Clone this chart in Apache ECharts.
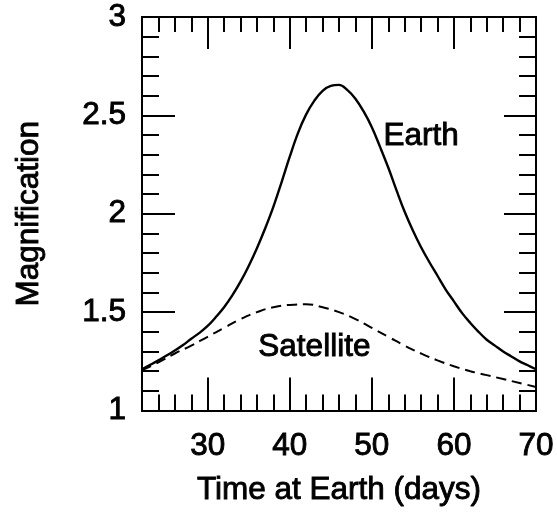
<!DOCTYPE html>
<html>
<head>
<meta charset="utf-8">
<script src="https://cdn.jsdelivr.net/npm/echarts@6/dist/echarts.min.js"></script>
<style>html,body{margin:0;padding:0;background:#fff;}#c{width:557px;height:512px;}</style>
</head>
<body>
<div id="c"></div>
<script>
// Data
const earthDays = [22, 23, 24, 25, 26, 27, 28, 29, 30, 31, 32, 33, 34, 35, 36, 37, 38, 39, 40, 41, 42, 43, 44, 45, 46, 47, 48, 49, 50, 51, 52, 53, 54, 55, 56, 57, 58, 59, 60, 61, 62, 63, 64, 65, 66, 67, 68, 69, 70];
const earthMag = [1.21, 1.232, 1.255, 1.28, 1.305, 1.333, 1.365, 1.395, 1.43, 1.475, 1.525, 1.585, 1.655, 1.735, 1.825, 1.925, 2.035, 2.16, 2.29, 2.41, 2.505, 2.575, 2.625, 2.65, 2.655, 2.63, 2.585, 2.52, 2.44, 2.34, 2.235, 2.12, 2.01, 1.915, 1.83, 1.755, 1.685, 1.615, 1.555, 1.495, 1.445, 1.40, 1.36, 1.33, 1.30, 1.275, 1.25, 1.23, 1.21];
const satDays = [22, 24, 26, 28, 30, 32, 34, 36, 38, 40, 42, 44, 46, 48, 50, 52, 54, 56, 58, 60, 62, 64, 66, 68, 70];
const satelliteMag = [1.205, 1.245, 1.29, 1.33, 1.375, 1.42, 1.465, 1.50, 1.525, 1.537, 1.54, 1.525, 1.50, 1.465, 1.42, 1.375, 1.33, 1.29, 1.255, 1.225, 1.20, 1.18, 1.16, 1.14, 1.12];
const xMajorTicks = [30, 40, 50, 60, 70];
const curveLabels = ['Earth', 'Satellite'];
const labelX = [56.0, 43.0];
const labelY = [2.395, 1.32];

const FONT = 'Liberation Sans, Arial, Helvetica, sans-serif';
const FS = 31.5;
const black = '#000';

function zip(xs, ys) { return xs.map((x, i) => [x, ys[i]]); }

const xBase = { type: 'value', min: 22, max: 70, splitLine: { show: false }, axisLine: { show: true, lineStyle: { color: black, width: 2 } } };
const yBase = { type: 'value', min: 1, max: 3, splitLine: { show: false }, axisLine: { show: true, lineStyle: { color: black, width: 2 } } };
const txt = { color: black, fontSize: FS, fontFamily: FONT, fontWeight: 'normal', textBorderColor: black, textBorderWidth: 0.9 };

const option = {
  animation: false,
  backgroundColor: '#fff',
  grid: { left: 142, right: 21, top: 17, bottom: 95, containLabel: false },
  xAxis: [
    Object.assign({}, xBase, { position: 'bottom', interval: 2,
      axisTick: { show: true, inside: true, length: 16, lineStyle: { color: black, width: 2 } },
      axisLabel: { show: false } }),
    Object.assign({}, xBase, { position: 'bottom',
      axisTick: { show: true, inside: true, length: 33, customValues: xMajorTicks, lineStyle: { color: black, width: 2 } },
      axisLabel: Object.assign({ show: true, customValues: xMajorTicks, margin: 20 }, txt),
      name: 'Time at Earth (days)', nameLocation: 'middle', nameGap: 64,
      nameTextStyle: txt }),
    Object.assign({}, xBase, { position: 'top', interval: 2,
      axisTick: { show: true, inside: true, length: 15, lineStyle: { color: black, width: 2 } },
      axisLabel: { show: false } }),
    Object.assign({}, xBase, { position: 'top',
      axisTick: { show: true, inside: true, length: 32, customValues: xMajorTicks, lineStyle: { color: black, width: 2 } },
      axisLabel: { show: false } })
  ],
  yAxis: [
    Object.assign({}, yBase, { position: 'left', interval: 0.1,
      axisTick: { show: true, inside: true, length: 17, lineStyle: { color: black, width: 2 } },
      axisLabel: { show: false } }),
    Object.assign({}, yBase, { position: 'left', interval: 0.5,
      axisTick: { show: true, inside: true, length: 33, lineStyle: { color: black, width: 2 } },
      axisLabel: Object.assign({ show: true, margin: 16 }, txt),
      name: 'Magnification', nameLocation: 'middle', nameGap: 97,
      nameTextStyle: txt }),
    Object.assign({}, yBase, { position: 'right', interval: 0.1,
      axisTick: { show: true, inside: true, length: 17, lineStyle: { color: black, width: 2 } },
      axisLabel: { show: false } }),
    Object.assign({}, yBase, { position: 'right', interval: 0.5,
      axisTick: { show: true, inside: true, length: 32, lineStyle: { color: black, width: 2 } },
      axisLabel: { show: false } })
  ],
  series: [
    { name: 'Earth', type: 'line', xAxisIndex: 0, yAxisIndex: 0, data: zip(earthDays, earthMag),
      smooth: 0.4, showSymbol: false, symbol: 'none',
      lineStyle: { color: black, width: 2.4, type: 'solid' } },
    { name: 'Satellite', type: 'line', xAxisIndex: 0, yAxisIndex: 0, data: zip(satDays, satelliteMag),
      smooth: 0.5, showSymbol: false, symbol: 'none',
      lineStyle: { color: black, width: 2, type: [10, 6] } },
    { type: 'scatter', xAxisIndex: 0, yAxisIndex: 0, symbolSize: 0,
      itemStyle: { color: black, opacity: 1 },
      data: curveLabels.map((t, i) => ({ value: [labelX[i], labelY[i]], name: t })),
      label: Object.assign({ show: true, position: 'inside', formatter: p => p.name, opacity: 1 }, txt),
      emphasis: { disabled: true },
      silent: true }
  ]
};

const chart = echarts.init(document.getElementById('c'), null, { renderer: 'canvas' });
chart.setOption(option);
</script>
</body>
</html>
